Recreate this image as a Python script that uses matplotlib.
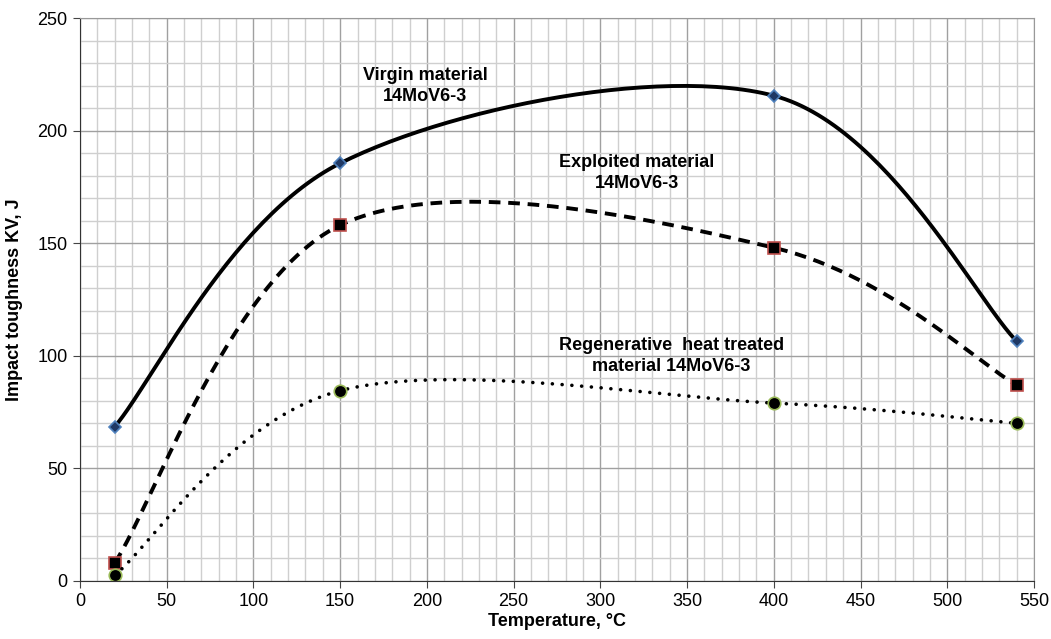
import numpy as np
import matplotlib
matplotlib.use('Agg')
import matplotlib.pyplot as plt
from matplotlib.ticker import MultipleLocator

plt.rcParams['font.family'] = ['Liberation Sans', 'DejaVu Sans']

# data
temp = [20, 150, 400, 540]
virgin = [68.5, 185.5, 215.5, 106.5]
exploited = [8, 158, 148, 87]
regenerative = [2.5, 84.5, 79, 70]


# Excel-like smoothed line (Bezier with Catmull-Rom style control points)
def smooth(xs, ys, n=60):
    p = np.column_stack([xs, ys]).astype(float)
    ext = np.vstack([p[0], p, p[-1]])
    out = []
    t = np.linspace(0, 1, n)[:, None]
    for i in range(len(p) - 1):
        p0 = ext[i + 1]
        p3 = ext[i + 2]
        c1 = p0 + (ext[i + 2] - ext[i]) / 6.0
        c2 = p3 - (ext[i + 3] - ext[i + 1]) / 6.0
        seg = (1 - t) ** 3 * p0 + 3 * (1 - t) ** 2 * t * c1 + 3 * (1 - t) * t ** 2 * c2 + t ** 3 * p3
        out.append(seg if i == 0 else seg[1:])
    c = np.vstack(out)
    return c[:, 0], c[:, 1]


fig = plt.figure(figsize=(10.51, 6.39), dpi=100)
ax = fig.add_axes([0.0761, 0.0908, 0.9077, 0.881])

ax.xaxis.set_major_locator(MultipleLocator(50))
ax.xaxis.set_minor_locator(MultipleLocator(10))
ax.yaxis.set_major_locator(MultipleLocator(50))
ax.yaxis.set_minor_locator(MultipleLocator(10))
ax.grid(which='minor', color='#cfcfcf', lw=1.0)
ax.grid(which='major', color='#a0a0a0', lw=1.0)
ax.set_axisbelow(True)
ax.set_xlim(0, 550)
ax.set_ylim(0, 250)
ax.tick_params(which='minor', length=0)
ax.tick_params(which='major', direction='out', length=5, labelsize=13, color='#444444', pad=4)
for s in ['top', 'right']:
    ax.spines[s].set_color('#999999')
for s in ['left', 'bottom']:
    ax.spines[s].set_color('#333333')

sx, sy = smooth(temp, virgin)
ax.plot(sx, sy, color='black', lw=2.8, solid_capstyle='round')
ax.plot(temp, virgin, ls='none', marker='D', ms=6.5, mfc='#1f3864', mec='#4f81bd', mew=1.2)

sx, sy = smooth(temp, exploited)
ax.plot(sx, sy, color='black', lw=2.8, ls=(0, (3, 2)))
ax.plot(temp, exploited, ls='none', marker='s', ms=9, mfc='black', mec='#c0504d', mew=1.2)

sx, sy = smooth(temp, regenerative)
ax.plot(sx, sy, color='black', lw=2.6, ls=(0, (0.01, 2.7)), dash_capstyle='round')
ax.plot(temp, regenerative, ls='none', marker='o', ms=9, mfc='black', mec='#9bbb59', mew=1.2)

ax.text(199, 220, 'Virgin material\n14MoV6-3', ha='center', va='center',
        fontsize=13, fontweight='bold', linespacing=1.3)
ax.text(321, 181, 'Exploited material\n14MoV6-3', ha='center', va='center',
        fontsize=13, fontweight='bold', linespacing=1.3)
ax.text(341, 100, 'Regenerative  heat treated\nmaterial 14MoV6-3', ha='center', va='center',
        fontsize=13, fontweight='bold', linespacing=1.3)

ax.set_xlabel('Temperature, °C', fontsize=13, fontweight='bold', labelpad=2)
ax.set_ylabel('Impact toughness KV, J', fontsize=13, fontweight='bold', labelpad=10)

fig.savefig('out.png', dpi=100)
